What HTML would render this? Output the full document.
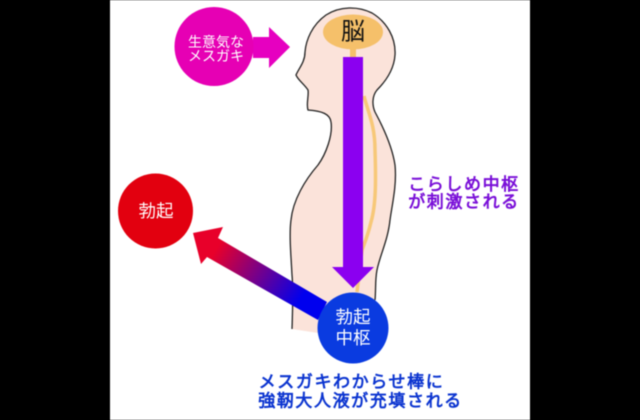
<!DOCTYPE html>
<html><head><meta charset="utf-8">
<style>
html,body{margin:0;padding:0;background:#000}
svg{display:block;filter:blur(.45px)}
text{font-family:"Liberation Sans","Noto Sans CJK JP",sans-serif;text-anchor:middle;dominant-baseline:central}
</style></head>
<body>
<svg width="640" height="420" viewBox="0 0 640 420" xmlns="http://www.w3.org/2000/svg">
<defs>
<linearGradient id="g" gradientUnits="userSpaceOnUse" x1="222" y1="240" x2="305" y2="292">
<stop offset="0" stop-color="#e8002a"/><stop offset="1" stop-color="#0000ee"/>
</linearGradient>
</defs>
<rect x="0" y="0" width="640" height="420" fill="#000"/>
<rect x="110" y="0" width="420" height="420" fill="#fff"/>
<path d="M292 329 C293 300 293 285 292 275 C291 255 289 235 291 220 C293 200 305 180 318 165 C326 154 333 135 331 122 C330 114 322 111 308 110 C306 104 309 96 308 90 C304 84 298 80 296 75 C299 68 305 62 305 52 C306 40 312 25 326 15 C340 6 358 6 372 13 C387 22 396 38 395 55 C394 70 385 82 377 90 C372 96 372 105 375 112 C382 125 392 145 395 165 C397 185 392 205 390 220 C388 240 380 255 377 270 C375 280 376 290 375 300 L360 345 L330 345 L318 333 Z" fill="#fbe3da"/>
<path d="M292 329 C293 300 293 285 292 275 C291 255 289 235 291 220 C293 200 305 180 318 165 C326 154 333 135 331 122 C330 114 322 111 308 110 C306 104 309 96 308 90 C304 84 298 80 296 75 C299 68 305 62 305 52 C306 40 312 25 326 15 C340 6 358 6 372 13 C387 22 396 38 395 55 C394 70 385 82 377 90 C372 96 372 105 375 112 C382 125 392 145 395 165 C397 185 392 205 390 220 C388 240 380 255 377 270 C375 280 376 290 375 300" fill="none" stroke="#222" stroke-width="1.300"/>
<ellipse cx="353" cy="32" rx="30" ry="17.500" fill="#f5c06a"/>
<rect x="350" y="48" width="6" height="12" fill="#f5c06a"/>
<path d="M364 96 C368 112 375 125 375 150 C376 180 376 205 371 222 C368 235 365 242 362 250 L357 292" fill="none" stroke="#f7c878" stroke-width="3.500"/>
<path d="M343 57 H363 V267 H374 L353 288 L332 267 H343 Z" fill="#8b00f0"/>
<path d="M193 233 L223 227 L218 238 L327 302 L318 320 L207 257 L201 264 Z" fill="url(#g)"/>
<path d="M253 37 H269 V27 L290 47 L269 68 V58 H253 Z" fill="#e600c0"/>
<circle cx="214" cy="46.500" r="39.500" fill="#e600b4"/>
<circle cx="155.500" cy="211" r="37.500" fill="#e2000f"/>
<circle cx="353" cy="328" r="35.500" fill="#0a3be0"/>
<g fill="#fff">
<text x="216" y="42" font-size="14">生意気な</text>
<text x="216" y="56" font-size="14">メスガキ</text>
<text x="156" y="211" font-size="17.500">勃起</text>
<text x="353" y="317" font-size="17.500">勃起</text>
<text x="353" y="338" font-size="17.500">中枢</text>
</g>
<text x="353" y="32" font-size="24" fill="#111">脳</text>
<g fill="#7a10d8" stroke="#7a10d8" stroke-width=".7" font-size="17" letter-spacing="1.600">
<text x="464" y="184.500">こらしめ中枢</text>
<text x="464" y="202">が刺激される</text>
</g>
<g fill="#0c35d0" stroke="#0c35d0" stroke-width=".7" font-size="17" letter-spacing="1.600">
<text x="351.500" y="382">メスガキわからせ棒に</text>
<text x="360.500" y="401">強靭大人液が充填される</text>
</g>
</svg>
</body></html>
